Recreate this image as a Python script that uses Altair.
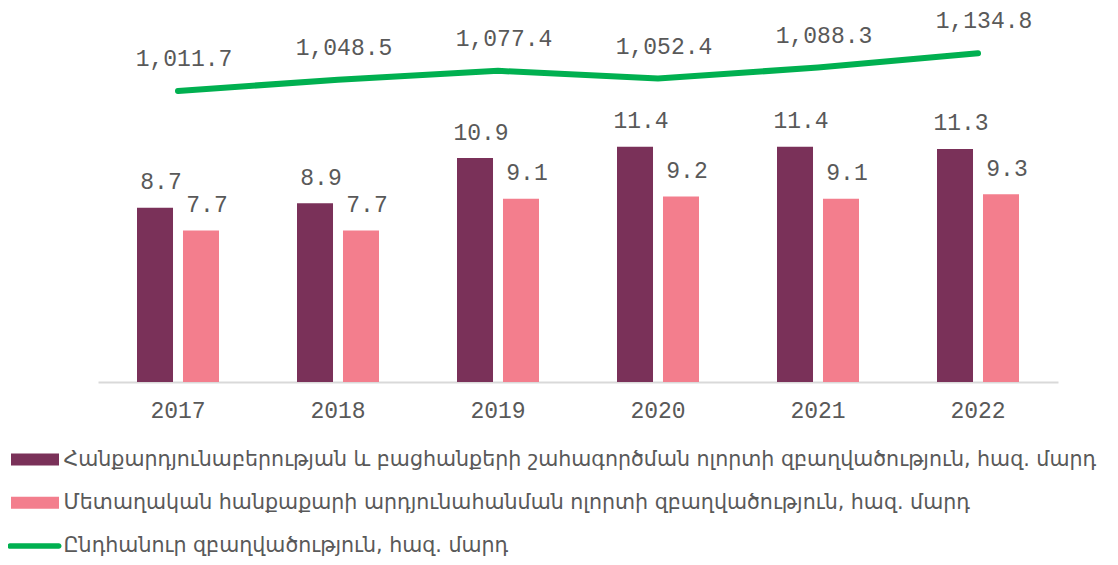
import altair as alt
import pandas as pd

years = ["2017", "2018", "2019", "2020", "2021", "2022"]
mining = [8.7, 8.9, 10.9, 11.4, 11.4, 11.3]
metal = [7.7, 7.7, 9.1, 9.2, 9.1, 9.3]
total = [1011.7, 1048.5, 1077.4, 1052.4, 1088.3, 1134.8]
series_names = [
    "Հանքարդյունաբերության և բացհանքերի շահագործման ոլորտի զբաղվածություն, հազ. մարդ",
    "Մետաղական հանքաքարի արդյունահանման ոլորտի զբաղվածություն, հազ. մարդ",
    "Ընդհանուր զբաղվածություն, հազ. մարդ",
]
colors = ["#7a3159", "#f37e8d", "#00b050"]

RECT = "M-1.92,-0.48H1.92V0.48H-1.92Z"
LINE = "M-2.0,-0.22H1.9A0.22,0.22 0 0 1 1.9,0.22H-2.0A0.22,0.22 0 0 1 -2.0,-0.22Z"

bars_df = pd.DataFrame({
    "year": years * 2,
    "series": [series_names[0]] * len(years) + [series_names[1]] * len(years),
    "value": mining + metal,
})
line_df = pd.DataFrame({"year": years, "series": [series_names[2]] * len(years), "value": total})
legend_df = pd.DataFrame({"series": series_names})

color_scale = alt.Scale(domain=series_names, range=colors)
shape_scale = alt.Scale(domain=series_names, range=[RECT, RECT, LINE])

FONT = "Liberation Mono"
GREY = "#595959"

x = alt.X(
    "year:N", sort=years, title=None,
    scale=alt.Scale(paddingInner=0.4875, paddingOuter=0.24375),
    axis=alt.Axis(ticks=False, labelPadding=17, labelFont=FONT, labelFontSize=23,
                  labelColor=GREY, domainColor="#d9d9d9", domainWidth=2, labelAngle=0,
                  grid=False),
)
xoff = alt.XOffset("series:N", sort=series_names[:2],
                   scale=alt.Scale(domain=series_names[:2], paddingInner=0.217, paddingOuter=0))
ybar = alt.Y("value:Q", scale=alt.Scale(domain=[1, 17], zero=False, nice=False), axis=None)
yline = alt.Y("value:Q", scale=alt.Scale(domain=[60.7, 1243.6], zero=False, nice=False), axis=None)
color = alt.Color("series:N", scale=color_scale, title=None)

legend_layer = alt.Chart(legend_df).mark_point(filled=True, opacity=0).encode(
    color=color,
    shape=alt.Shape("series:N", scale=shape_scale, title=None),
)

bars = alt.Chart(bars_df).mark_bar().encode(
    x=x, xOffset=xoff, y=ybar, y2=alt.datum(1), color=color,
)
bar_text = alt.Chart(bars_df).mark_text(
    font=FONT, fontSize=23, color=GREY, baseline="alphabetic", dy=-18.5, dx=6,
).encode(x=x, xOffset=xoff, y=ybar, text=alt.Text("value:Q", format=".1f"))

line = alt.Chart(line_df).mark_line(strokeWidth=6, strokeCap="round").encode(
    x=x, y=yline, color=color,
)
line_text = alt.Chart(line_df).mark_text(
    font=FONT, fontSize=23, color=GREY, baseline="alphabetic", dy=-25, dx=6,
).encode(x=x, y=yline, text=alt.Text("value:Q", format=",.1f"))

chart = alt.layer(
    legend_layer,
    alt.layer(bars, bar_text),
    alt.layer(line, line_text),
).resolve_scale(y="independent").properties(
    width=960, height=362,
    autosize=alt.AutoSizeParams(type="none"),
    padding={"left": 90, "top": 12, "right": 52, "bottom": 175},
).configure_view(stroke=None).configure_legend(
    orient="none", legendX=-75.5, legendY=427, direction="vertical",
    labelFont="DejaVu Sans", labelFontSize=20.6, labelColor=GREY, labelLimit=1100,
    symbolSize=625, rowPadding=19.3, labelOffset=16, symbolOpacity=1,
    symbolStrokeWidth=0, padding=0,
)

chart.save("out.html", embed_options={"renderer": "svg", "actions": False})
